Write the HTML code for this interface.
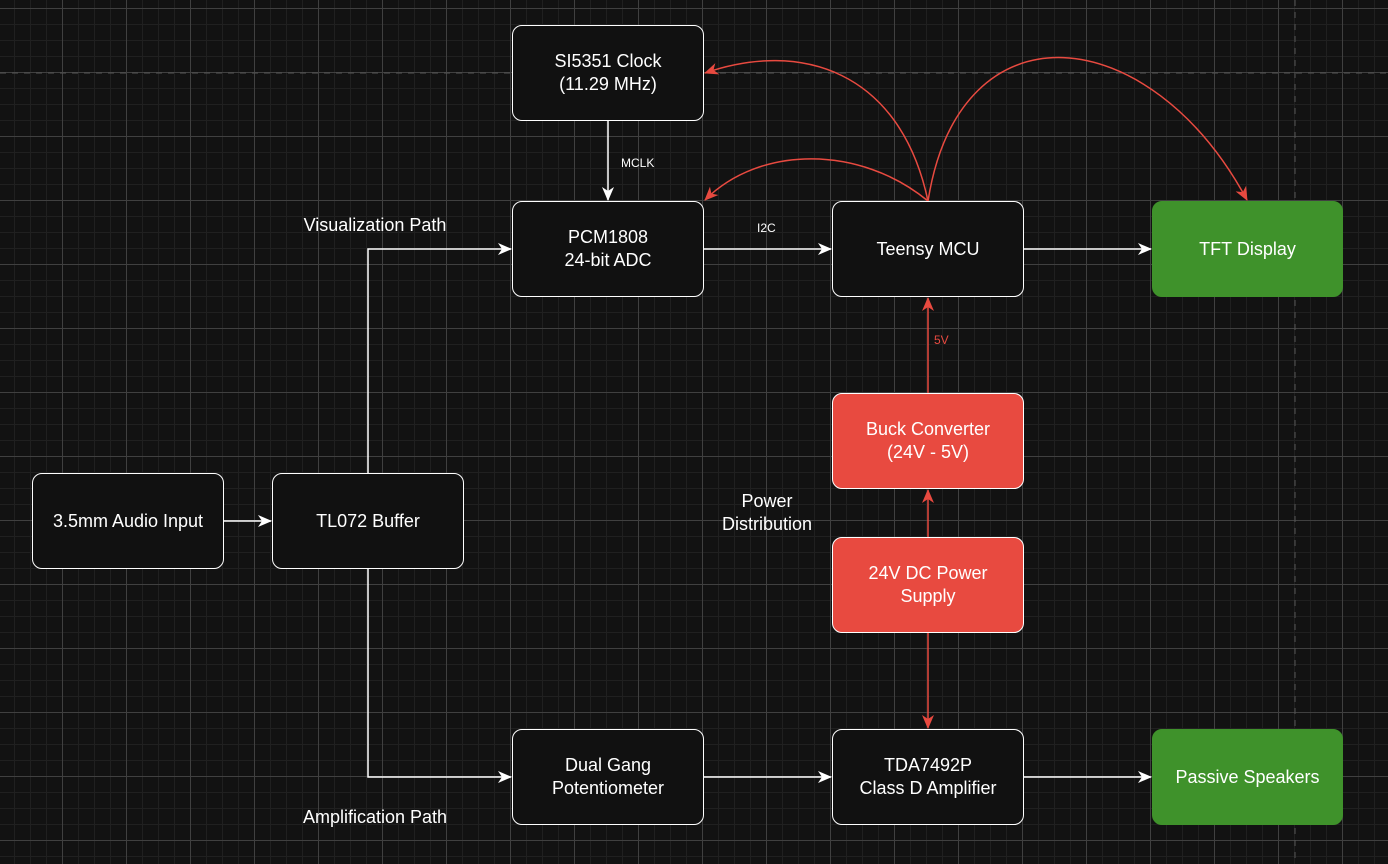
<!DOCTYPE html>
<html><head><style>
html,body{margin:0;padding:0;}
body{width:1388px;height:864px;overflow:hidden;background-color:#121212;
background-image:
linear-gradient(#404040 1px,transparent 1px),
linear-gradient(90deg,#404040 1px,transparent 1px),
linear-gradient(#202020 1px,transparent 1px),
linear-gradient(90deg,#202020 1px,transparent 1px);
background-size:64px 64px,64px 64px,16px 16px,16px 16px;
background-position:0 8px,62px 0,0 8px,62px 0;
font-family:"Liberation Sans",sans-serif;position:relative;}
.b{position:absolute;box-sizing:border-box;border:1.5px solid #fff;border-radius:10px;background:#111;color:#fff;
display:flex;align-items:center;justify-content:center;text-align:center;font-size:18px;line-height:23px;}
.g{background:#3f922b;border-color:#3f922b;}
.r{background:#e84a40;border-color:#fff;}
.t{position:absolute;color:#fff;font-size:18px;text-align:center;line-height:23px;}
svg{position:absolute;left:0;top:0;}
</style></head><body>
<svg width="1388" height="864">
<line x1="0" y1="73" x2="1388" y2="73" stroke="#555" stroke-dasharray="6 6"/>
<line x1="1295" y1="0" x2="1295" y2="864" stroke="#555" stroke-dasharray="6 6"/>
<defs>
<marker id="w" markerWidth="14" markerHeight="14" refX="13" refY="7" orient="auto" markerUnits="userSpaceOnUse"><path d="M0,1 L14,7 L0,13 L4,7Z" fill="#fff"/></marker>
<marker id="rd" markerWidth="14" markerHeight="14" refX="13" refY="7" orient="auto" markerUnits="userSpaceOnUse"><path d="M0,1 L14,7 L0,13 L4,7Z" fill="#e84a40"/></marker>
</defs>
<g stroke="#fff" stroke-width="1.5" fill="none" marker-end="url(#w)">
<line x1="608" y1="121" x2="608" y2="200"/>
<line x1="704" y1="249" x2="831" y2="249"/>
<line x1="1024" y1="249" x2="1151" y2="249"/>
<line x1="224" y1="521" x2="271" y2="521"/>
<polyline points="368,473 368,249 511,249"/>
<polyline points="368,569 368,777 511,777"/>
<line x1="704" y1="777" x2="831" y2="777"/>
<line x1="1024" y1="777" x2="1151" y2="777"/>
</g>
<g stroke="#e84a40" stroke-width="1.5" fill="none" marker-end="url(#rd)">
<line x1="928" y1="393" x2="928" y2="298"/>
<line x1="928" y1="537" x2="928" y2="490"/>
<line x1="928" y1="633" x2="928" y2="728"/>
<path d="M928,201 C900,70 800,40 705,73"/>
<path d="M928,201 C860,145 760,145 705,200"/>
<path d="M928,201 C960,0 1150,20 1247,200"/>
</g>
<text x="621" y="167" fill="#fff" font-size="12" font-family="Liberation Sans">MCLK</text>
<text x="757" y="232" fill="#fff" font-size="12" font-family="Liberation Sans">I2C</text>
<text x="934" y="344" fill="#e84a40" font-size="12" font-family="Liberation Sans">5V</text>
</svg>
<div class="b" style="left:512px;top:25px;width:192px;height:96px">SI5351 Clock<br>(11.29 MHz)</div>
<div class="b" style="left:512px;top:201px;width:192px;height:96px">PCM1808<br>24-bit ADC</div>
<div class="b" style="left:832px;top:201px;width:192px;height:96px">Teensy MCU</div>
<div class="b g" style="left:1152px;top:201px;width:191px;height:96px">TFT Display</div>
<div class="b" style="left:32px;top:473px;width:192px;height:96px">3.5mm Audio Input</div>
<div class="b" style="left:272px;top:473px;width:192px;height:96px">TL072 Buffer</div>
<div class="b r" style="left:832px;top:393px;width:192px;height:96px">Buck Converter<br>(24V - 5V)</div>
<div class="b r" style="left:832px;top:537px;width:192px;height:96px">24V DC Power<br>Supply</div>
<div class="b" style="left:512px;top:729px;width:192px;height:96px">Dual Gang<br>Potentiometer</div>
<div class="b" style="left:832px;top:729px;width:192px;height:96px">TDA7492P<br>Class D Amplifier</div>
<div class="b g" style="left:1152px;top:729px;width:191px;height:96px">Passive Speakers</div>
<div class="t" style="left:275px;top:214px;width:200px">Visualization Path</div>
<div class="t" style="left:275px;top:806px;width:200px">Amplification Path</div>
<div class="t" style="left:697px;top:490px;width:140px">Power<br>Distribution</div>
</body></html>
